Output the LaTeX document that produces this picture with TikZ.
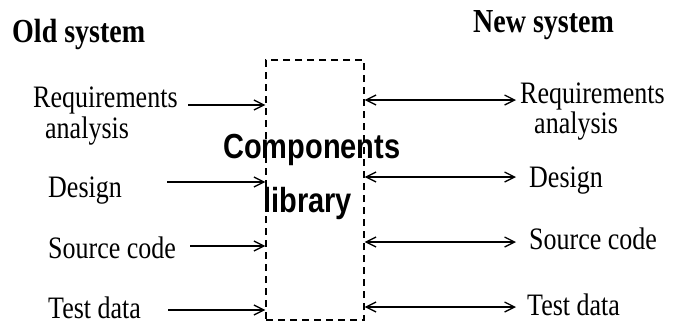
\documentclass[tikz,border=0pt]{standalone}
\usepackage{fontspec}
\setmainfont{Liberation Serif}
\setsansfont{Liberation Sans}
\usetikzlibrary{arrows.meta}
\newcommand{\tallbox}[1]{\scalebox{1}[1.2]{#1}}
\begin{document}
\begin{tikzpicture}[x=1pt,y=-1pt,
  lbl/.style={inner sep=0pt,anchor=base west,font=\fontsize{26}{30}\selectfont},
  head/.style={inner sep=0pt,anchor=base west,font=\fontsize{28}{32}\selectfont\bfseries},
  lib/.style={inner sep=0pt,anchor=base west,font=\fontsize{29}{33}\selectfont\sffamily\bfseries},
  flow/.style={line width=1.3pt,-{Straight Barb[length=10pt,width=10pt,line width=1.3pt]}},
  both/.style={line width=1.3pt,{Straight Barb[length=10pt,width=10pt,line width=1.3pt]}-{Straight Barb[length=10pt,width=10pt,line width=1.3pt]}},
  libbox/.style={draw,line width=1.3pt,dash pattern=on 7pt off 5pt,inner sep=0pt}]
\useasboundingbox (0,0) rectangle (674,325);

% headings
\node[head] (old) at (12,42) {\tallbox{Old system}};
\node[head] (new) at (473,32) {\tallbox{New system}};

% components library (dashed box)
\node[libbox,minimum width=98pt,minimum height=260pt] (box) at (315,190) {};
\node[lib] (comp) at (223,158) {\tallbox{Components}};
\node[lib] (libr) at (263,212) {\tallbox{library}};

% old system activities
\node[lbl] (oreq) at (33,107) {\tallbox{Requirements}};
\node[lbl] (oana) at (45,138) {\tallbox{analysis}};
\node[lbl] (odes) at (48,197) {\tallbox{Design}};
\node[lbl] (osrc) at (48,258) {\tallbox{Source code}};
\node[lbl] (otst) at (48,318) {\tallbox{Test data}};

\coordinate (a1) at (188,105);
\coordinate (a2) at (167,182);
\coordinate (a3) at (190,246);
\coordinate (a4) at (168,310);
\draw[flow] (a1) -- (a1 -| box.west);
\draw[flow] (a2) -- (a2 -| box.west);
\draw[flow] (a3) -- (a3 -| box.west);
\draw[flow] (a4) -- (a4 -| box.west);

% new system activities
\node[lbl] (nreq) at (520,103) {\tallbox{Requirements}};
\node[lbl] (nana) at (534,133) {\tallbox{analysis}};
\node[lbl] (ndes) at (529,187) {\tallbox{Design}};
\node[lbl] (nsrc) at (529,249) {\tallbox{Source code}};
\node[lbl] (ntst) at (527,315) {\tallbox{Test data}};

\coordinate (b1) at (516,100);
\coordinate (b2) at (516,177);
\coordinate (b3) at (516,242);
\coordinate (b4) at (516,307);
\draw[both] (b1 -| box.east) -- (b1);
\draw[both] (b2 -| box.east) -- (b2);
\draw[both] (b3 -| box.east) -- (b3);
\draw[both] (b4 -| box.east) -- (b4);
\end{tikzpicture}
\end{document}
